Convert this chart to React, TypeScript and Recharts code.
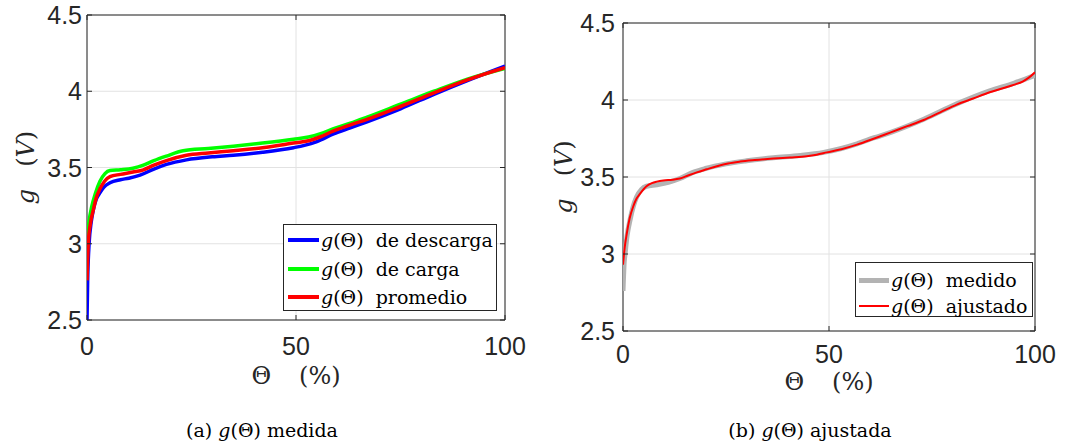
import React from 'react';
import { LineChart, Line, XAxis, YAxis, CartesianGrid, ReferenceArea, Label } from 'recharts';

const INK = '#262626';
const GRID = '#e2e2e2';
const SANS = '"Liberation Sans", Arial, Helvetica, sans-serif';
const SERIF = '"DejaVu Serif", serif';

// Axis ticks and ranges
const thetaTicks = [0, 50, 100];
const gTicks = [2.5, 3, 3.5, 4, 4.5];
const thetaDomain: [number, number] = [0, 100];
const gDomain: [number, number] = [2.5, 4.5];

// (a) discharge curve: Θ (%) and g (V)
const descargaTheta = [0, 0.15, 0.5, 1, 1.5, 2.2, 3, 4, 5.5, 8, 10, 12.7, 16, 19, 23.8, 30, 35, 42, 49.4, 52, 55, 59, 63, 67, 75, 83, 91, 100];
const descargaG = [2.5, 2.75, 3.0, 3.14, 3.22, 3.29, 3.33, 3.37, 3.4, 3.42, 3.43, 3.45, 3.49, 3.52, 3.55, 3.57, 3.58, 3.6, 3.63, 3.645, 3.67, 3.72, 3.76, 3.8, 3.885, 3.98, 4.07, 4.165];

// (a) charge curve
const cargaTheta = [0, 0.5, 1.1, 2, 3.1, 4.3, 5.5, 8, 11, 13.5, 16, 19, 23, 29, 35, 42, 49.4, 53, 55.7, 59, 63, 67, 75, 83, 91, 100];
const cargaG = [3.02, 3.15, 3.24, 3.33, 3.41, 3.46, 3.48, 3.485, 3.495, 3.515, 3.545, 3.575, 3.61, 3.625, 3.64, 3.66, 3.685, 3.7, 3.72, 3.755, 3.79, 3.83, 3.915, 4.0, 4.08, 4.15];

// (a) average curve
const promedioTheta = [0, 0.3, 0.8, 1.5, 2.2, 3.1, 4.2, 5.5, 8, 11, 13.5, 16, 19, 23.8, 29, 35, 42, 49.4, 53, 55.7, 59, 63, 67, 75, 83, 91, 100];
const promedioG = [2.76, 3.0, 3.13, 3.22, 3.3, 3.36, 3.41, 3.44, 3.455, 3.47, 3.485, 3.515, 3.545, 3.58, 3.595, 3.61, 3.63, 3.66, 3.675, 3.7, 3.74, 3.78, 3.815, 3.9, 3.99, 4.075, 4.155];

// (b) measured curve
const medidoTheta = [0, 0.3, 0.5, 1, 1.7, 2.5, 3.3, 4.5, 5.7, 8.2, 11, 13.8, 17, 20, 25, 30, 36.5, 43, 48.7, 53, 56.8, 61, 65, 73, 81, 89, 95, 100];
const medidoG = [2.76, 2.95, 3.0, 3.12, 3.22, 3.31, 3.37, 3.42, 3.44, 3.45, 3.465, 3.49, 3.53, 3.555, 3.585, 3.605, 3.625, 3.64, 3.66, 3.685, 3.715, 3.755, 3.79, 3.875, 3.975, 4.06, 4.11, 4.16];

// (b) fitted curve
const ajustadoTheta = [0, 0.4, 0.9, 1.6, 2.5, 3.3, 4.1, 5.7, 7, 8.2, 9.8, 12, 13.8, 15.8, 17.9, 20.3, 22.8, 25.5, 28.4, 32, 36.5, 40.5, 44.6, 47, 49.5, 53, 56.8, 61, 65, 69, 73, 77, 81, 85, 89, 92, 95, 97, 98.5, 100];
const ajustadoG = [2.93, 3.04, 3.13, 3.23, 3.31, 3.36, 3.39, 3.44, 3.46, 3.47, 3.478, 3.482, 3.49, 3.51, 3.53, 3.55, 3.57, 3.588, 3.6, 3.61, 3.62, 3.627, 3.635, 3.645, 3.66, 3.68, 3.71, 3.75, 3.79, 3.83, 3.87, 3.92, 3.97, 4.01, 4.05, 4.075, 4.1, 4.12, 4.145, 4.18];

type Pt = { theta: number; g: number };
const toPoints = (xs: number[], ys: number[]): Pt[] => xs.map((x, i) => ({ theta: x, g: ys[i] }));

type Series = { key: string; label: string; data: Pt[]; color: string; width: number };

const seriesA: Series[] = [
  { key: 'descarga', label: 'de descarga', data: toPoints(descargaTheta, descargaG), color: '#0000ff', width: 3.5 },
  { key: 'carga', label: 'de carga', data: toPoints(cargaTheta, cargaG), color: '#00ff00', width: 3.5 },
  { key: 'promedio', label: 'promedio', data: toPoints(promedioTheta, promedioG), color: '#ff0000', width: 3.5 },
];

const seriesB: Series[] = [
  { key: 'medido', label: 'medido', data: toPoints(medidoTheta, medidoG), color: '#b3b3b3', width: 5 },
  { key: 'ajustado', label: 'ajustado', data: toPoints(ajustadoTheta, ajustadoG), color: '#ff0000', width: 2 },
];

const Y_AXIS_W = 60;
const X_AXIS_H = 30;
const TICK_LEN = 5;

type Margin = { top: number; right: number; bottom: number; left: number };

type LegendSpec = {
  left: number; top: number; width: number; height: number;
  rows: number[]; sampleX: number; sampleW: number; textX: number; sampleWidths?: number[];
};

type PanelProps = {
  left: number;
  width: number;
  height: number;
  margin: Margin;
  series: Series[];
  yTickGap: number;
  xTickGap: number;
  xLabelDrop: number;
  yLabelInset: number;
  legend: LegendSpec;
};

const fmt = (v: number) => String(v);

function Panel(p: PanelProps) {
  const plotW = p.width - p.margin.left - p.margin.right - Y_AXIS_W;
  const plotH = p.height - p.margin.top - p.margin.bottom - X_AXIS_H;

  const yTick = (props: any) => {
    const { x, y, payload } = props;
    const ax = x + p.yTickGap;
    return (
      <g>
        <line x1={ax} x2={ax + TICK_LEN} y1={y} y2={y} stroke={INK} strokeWidth={1} />
        <line x1={ax + plotW - TICK_LEN} x2={ax + plotW} y1={y} y2={y} stroke={INK} strokeWidth={1} />
        <text x={x} y={y} dy="0.36em" textAnchor="end" fontFamily={SANS} fontSize={25} fill={INK}>
          {fmt(payload.value)}
        </text>
      </g>
    );
  };

  const xTick = (props: any) => {
    const { x, y, payload } = props;
    const ay = y - p.xTickGap;
    return (
      <g>
        <line x1={x} x2={x} y1={ay} y2={ay - TICK_LEN} stroke={INK} strokeWidth={1} />
        <line x1={x} x2={x} y1={ay - plotH} y2={ay - plotH + TICK_LEN} stroke={INK} strokeWidth={1} />
        <text x={x} y={y} dy="0.72em" textAnchor="middle" fontFamily={SANS} fontSize={25} fill={INK}>
          {fmt(payload.value)}
        </text>
      </g>
    );
  };

  const xLabel = (props: any) => {
    const vb = props.viewBox;
    const cx = vb.x + vb.width / 2;
    const by = vb.y + p.xLabelDrop;
    return (
      <text x={cx} y={by} textAnchor="middle" fontFamily={SERIF} fontSize={24} fill={INK}>
        <tspan>Θ</tspan>
        <tspan dx={28}>(%)</tspan>
      </text>
    );
  };

  const yLabel = (props: any) => {
    const vb = props.viewBox;
    const bx = vb.x + vb.width - p.yLabelInset;
    const cy = vb.y + vb.height / 2;
    return (
      <text x={bx} y={cy} transform={`rotate(-90 ${bx} ${cy})`} textAnchor="middle" fontFamily={SERIF} fontSize={24} fill={INK}>
        <tspan fontStyle="italic">g</tspan>
        <tspan dx={22}>(</tspan>
        <tspan fontStyle="italic">V</tspan>
        <tspan>)</tspan>
      </text>
    );
  };

  const lg = p.legend;

  return (
    <div style={{ position: 'absolute', left: p.left, top: 0, width: p.width, height: p.height }}>
      <LineChart width={p.width} height={p.height} margin={p.margin}>
        <CartesianGrid stroke={GRID} strokeWidth={1} />
        <XAxis
          type="number"
          dataKey="theta"
          domain={thetaDomain}
          ticks={thetaTicks}
          height={X_AXIS_H}
          axisLine={false}
          tickLine={false}
          tickSize={0}
          tickMargin={p.xTickGap}
          tick={xTick}
          allowDataOverflow
        >
          <Label content={xLabel} />
        </XAxis>
        <YAxis
          type="number"
          dataKey="g"
          domain={gDomain}
          ticks={gTicks}
          width={Y_AXIS_W}
          axisLine={false}
          tickLine={false}
          tickSize={0}
          tickMargin={p.yTickGap}
          tick={yTick}
          allowDataOverflow
        >
          <Label content={yLabel} />
        </YAxis>
        <ReferenceArea x1={0} x2={100} y1={2.5} y2={4.5} stroke={INK} strokeWidth={1} fill="none" fillOpacity={0} />
        {p.series.map((s) => (
          <Line
            key={s.key}
            data={s.data}
            dataKey="g"
            type="monotone"
            stroke={s.color}
            strokeWidth={s.width}
            dot={false}
            activeDot={false}
            isAnimationActive={false}
            strokeLinejoin="round"
          />
        ))}
      </LineChart>
      <div
        style={{
          position: 'absolute',
          left: lg.left,
          top: lg.top,
          width: lg.width,
          height: lg.height,
          border: `1px solid ${INK}`,
          background: '#fff',
          boxSizing: 'border-box',
          fontFamily: SERIF,
          fontSize: 19,
          color: '#000',
        }}
      >
        {p.series.map((s, i) => (
          <div key={s.key}>
            <div
              style={{
                position: 'absolute',
                left: lg.sampleX,
                top: lg.rows[i] - (lg.sampleWidths ? lg.sampleWidths[i] : s.width) / 2,
                width: lg.sampleW,
                height: lg.sampleWidths ? lg.sampleWidths[i] : s.width,
                background: s.color,
              }}
            />
            <div
              style={{
                position: 'absolute',
                left: lg.textX,
                top: lg.rows[i] - 14,
                height: 28,
                lineHeight: '28px',
                whiteSpace: 'nowrap',
              }}
            >
              <span style={{ fontStyle: 'italic' }}>g</span>(Θ)&nbsp; {s.label}
            </div>
          </div>
        ))}
      </div>
    </div>
  );
}

export default function App() {
  return (
    <div style={{ position: 'absolute', left: 0, top: 0, width: 1071, height: 446, background: '#fff', overflow: 'hidden' }}>
      <Panel
        left={0}
        width={540}
        height={400}
        margin={{ top: 15, right: 35, bottom: 50, left: 27 }}
        series={seriesA}
        yTickGap={5}
        xTickGap={17}
        xLabelDrop={64}
        yLabelInset={53}
        legend={{ left: 283, top: 224, width: 214, height: 87, rows: [15, 44, 72], sampleX: 4, sampleW: 31, textX: 37 }}
      />
      <Panel
        left={540}
        width={531}
        height={400}
        margin={{ top: 23, right: 36, bottom: 39, left: 23 }}
        series={seriesB}
        yTickGap={8}
        xTickGap={14}
        xLabelDrop={59}
        yLabelInset={51}
        legend={{ left: 315, top: 262, width: 178, height: 55, rows: [17, 43], sampleX: 3, sampleW: 30, textX: 35, sampleWidths: [5, 2] }}
      />
      <svg width={1071} height={446} style={{ position: 'absolute', left: 0, top: 0, pointerEvents: 'none' }}>
        <text x={262} y={437} textAnchor="middle" fontFamily={SERIF} fontSize={19} fill="#000">
          <tspan>(a) </tspan>
          <tspan fontStyle="italic">g</tspan>
          <tspan>(Θ) medida</tspan>
        </text>
        <text x={810} y={437} textAnchor="middle" fontFamily={SERIF} fontSize={19} fill="#000">
          <tspan>(b) </tspan>
          <tspan fontStyle="italic">g</tspan>
          <tspan>(Θ) ajustada</tspan>
        </text>
      </svg>
    </div>
  );
}
